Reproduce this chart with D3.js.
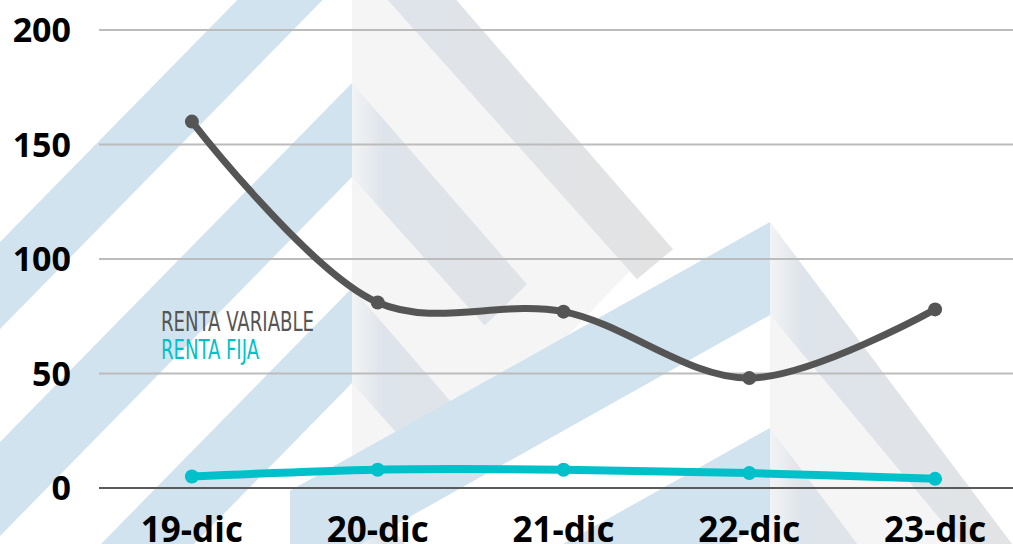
<!DOCTYPE html>
<html>
<head>
<meta charset="utf-8">
<script src="https://cdn.jsdelivr.net/npm/d3@7"></script>
<style>
  html, body { margin: 0; padding: 0; background: #fff; overflow: hidden; }
  svg { display: block; }
</style>
</head>
<body>
<svg id="chart" width="1013" height="544"></svg>
<script>
const days = ['19-dic', '20-dic', '21-dic', '22-dic', '23-dic'];
const rentaVariable = [160, 81, 77, 48, 78];
const rentaFija = [5, 8, 8, 6.5, 4];
const yTicks = [0, 50, 100, 150, 200];
const seriesNames = ['RENTA VARIABLE', 'RENTA FIJA'];

const width = 1013;
const height = 544;
const grey = '#555555';
const cyan = '#00c1c9';

const svg = d3.select('#chart');

const x = d3.scalePoint().domain(days).range([99, 1028]).padding(0.5);
const y = d3.scaleLinear().domain([0, 200]).range([488, 30]);

// background logo (two stacks of chevrons), purely decorative
const blue = '#d0e3ee';
const shade = '#f5f5f5';

const defs = svg.append('defs');
[['legL', 352], ['legR', 770]].forEach(([id, cx]) => {
	const g = defs.append('linearGradient')
		.attr('id', id)
		.attr('gradientUnits', 'userSpaceOnUse')
		.attr('x1', cx).attr('x2', cx + 320)
		.attr('y1', 0).attr('y2', 0);
	g.append('stop').attr('offset', 0).attr('stop-color', '#f2f3f4');
	g.append('stop').attr('offset', 0.1).attr('stop-color', '#dee4eb');
	g.append('stop').attr('offset', 1).attr('stop-color', '#e3e3e3');
});

const leftLeg = (cx, top, thick, slope, len) => [
	[cx, top], [cx - len, top + slope * len],
	[cx - len, top + thick + slope * len], [cx, top + thick]
];
const rightLeg = (cx, outer, inner, so, si, len) => {
	const back = (inner - outer) * 0.45;
	return [
		[cx, outer], [cx + len, outer + so * len],
		[cx + len - back, inner + si * (len - back)], [cx, inner]
	];
};

const logo = svg.append('g').attr('class', 'logo');
const shapes = [
	{ fill: shade, pts: [[352, -40], [630, 271], [352, 560]] },
	{ fill: shade, pts: [[770, 315], [1010, 603], [770, 603]] },
	// left stack
	{ fill: blue, pts: leftLeg(352, -117, 87, 1.02, 420) },
	{ fill: blue, pts: leftLeg(352, 83, 94, 1.02, 420) },
	{ fill: blue, pts: leftLeg(352, 288, 95, 1.02, 420) },
	{ fill: blue, pts: leftLeg(352, 483, 95, 1.02, 420) },
	{ fill: 'url(#legL)', pts: rightLeg(352, -120, -40, 1.15, 1.12, 321) },
	{ fill: 'url(#legL)', pts: rightLeg(352, 83, 177, 1.15, 1.12, 175) },
	{ fill: 'url(#legL)', pts: rightLeg(352, 288, 383, 1.15, 1.12, 105) },
	{ fill: 'url(#legL)', pts: rightLeg(352, 483, 578, 1.15, 1.12, 80) },
	// right stack
	{ fill: blue, pts: leftLeg(770, 222, 93, 0.56, 480) },
	{ fill: blue, pts: leftLeg(770, 428, 93, 0.56, 480) },
	{ fill: 'url(#legR)', pts: rightLeg(770, 222, 315, 1.33, 1.2, 420) },
	{ fill: 'url(#legR)', pts: rightLeg(770, 428, 521, 1.33, 1.2, 300) }
];
logo.selectAll('polygon')
	.data(shapes)
	.join('polygon')
	.attr('points', d => d.pts.map(p => p.join(',')).join(' '))
	.attr('fill', d => d.fill);

// gridlines
svg.append('g')
	.selectAll('line')
	.data(yTicks)
	.join('line')
	.attr('x1', 99)
	.attr('x2', width)
	.attr('y1', d => y(d))
	.attr('y2', d => y(d))
	.attr('stroke', d => d === 0 ? '#5a5a5a' : '#bcbcbc')
	.attr('stroke-width', 2);

// y labels
svg.append('g')
	.selectAll('text')
	.data(yTicks)
	.join('text')
	.text(d => d)
	.attr('x', 71)
	.attr('y', d => y(d))
	.attr('dy', '0.36em')
	.attr('text-anchor', 'end')
	.style('font', '700 34px "Open Sans"')
	.attr('fill', '#000');

// x labels
svg.append('g')
	.selectAll('text')
	.data(days)
	.join('text')
	.text(d => d)
	.attr('x', d => x(d))
	.attr('y', 542)
	.attr('text-anchor', 'middle')
	.style('font', '700 35px "Open Sans"')
	.attr('fill', '#000');

const series = [
	{ name: seriesNames[0], values: rentaVariable, color: grey, w: 7 },
	{ name: seriesNames[1], values: rentaFija, color: cyan, w: 8 }
];

const line = d3.line()
	.x((d, i) => x(days[i]))
	.y(d => y(d))
	.curve(d3.curveCatmullRom.alpha(0.5));

series.forEach(s => {
	const g = svg.append('g');
	g.append('path')
		.attr('d', line(s.values))
		.attr('fill', 'none')
		.attr('stroke', s.color)
		.attr('stroke-width', s.w)
		.attr('stroke-linecap', 'round');
	g.selectAll('circle')
		.data(s.values)
		.join('circle')
		.attr('cx', (d, i) => x(days[i]))
		.attr('cy', d => y(d))
		.attr('r', 7)
		.attr('fill', s.color);
});

// legend
svg.append('g')
	.selectAll('text')
	.data(series)
	.join('text')
	.text(d => d.name)
	.attr('x', 161)
	.attr('y', (d, i) => 331 + i * 28)
	.attr('textLength', d => d.name === seriesNames[0] ? 153 : 98)
	.attr('lengthAdjust', 'spacingAndGlyphs')
	.style('font', '400 27px "Liberation Sans Narrow", "DejaVu Sans Condensed", sans-serif')
	.attr('fill', d => d.color);
</script>
</body>
</html>
